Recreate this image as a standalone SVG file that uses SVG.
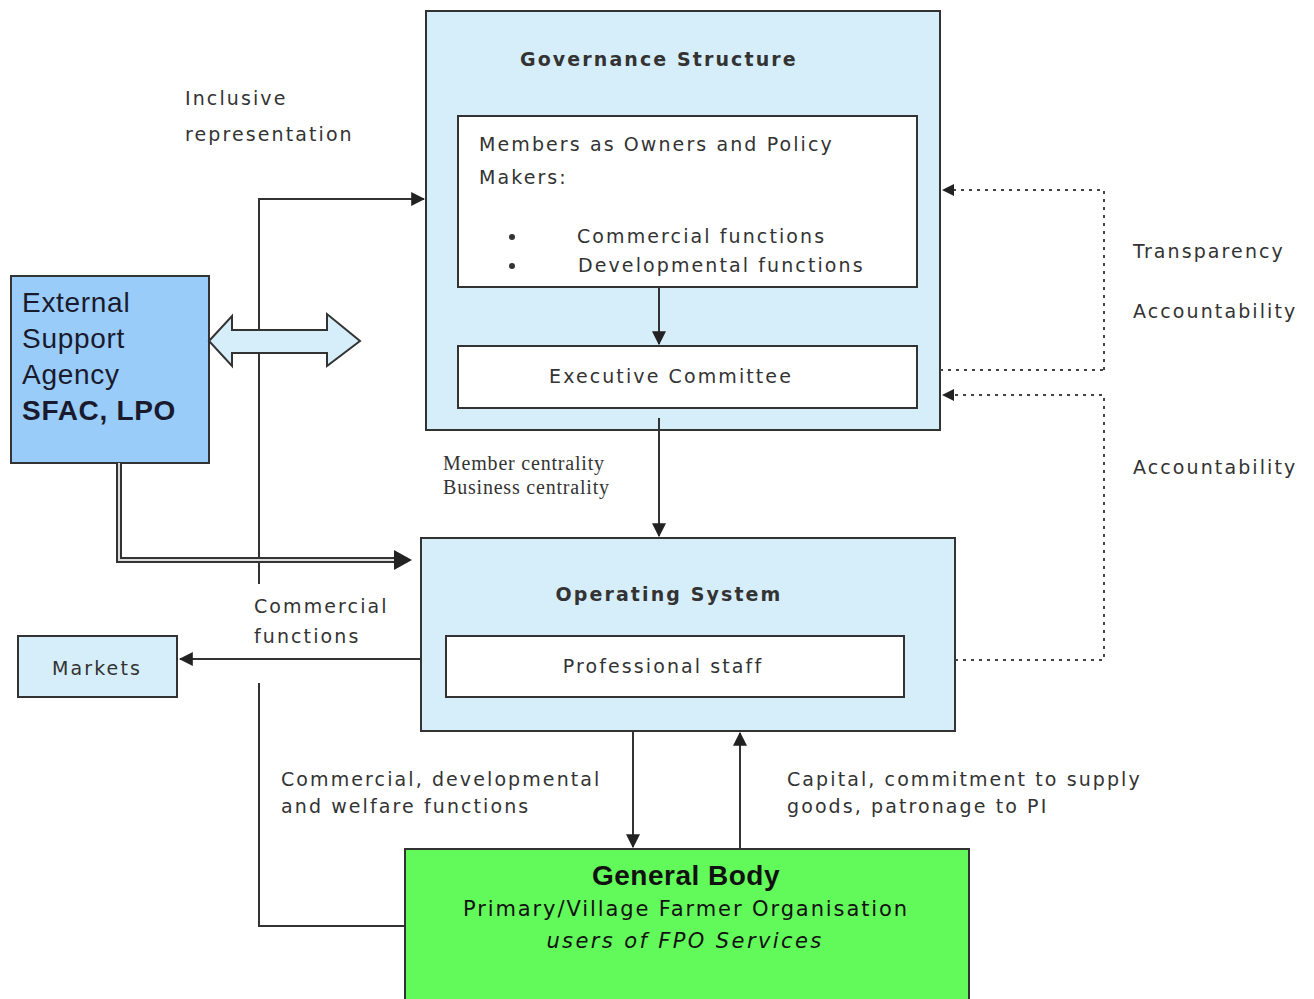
<svg xmlns="http://www.w3.org/2000/svg" width="1314" height="999" viewBox="0 0 1314 999">
<style>
.t{font-family:"DejaVu Sans",Verdana,sans-serif;font-size:19px;fill:#333;letter-spacing:2.1px}
.b{font-weight:bold}
.s{font-family:"Liberation Serif","Times New Roman",serif;font-size:20px;fill:#333;letter-spacing:0.8px}
.e{font-family:"Liberation Sans",Arial,sans-serif;font-size:28px;fill:#1a1a2e;letter-spacing:0.7px}
.g{font-family:"DejaVu Sans",sans-serif;font-size:21px;fill:#111}
.box{stroke:#333;stroke-width:2}
.ln{stroke:#333;stroke-width:2;fill:none}
.dot{stroke:#444;stroke-width:2;fill:none;stroke-dasharray:3 5}
</style>
<defs>
<marker id="ah2" viewBox="0 0 12 12" refX="11" refY="6" markerWidth="14" markerHeight="14" orient="auto" markerUnits="userSpaceOnUse">
<path d="M0,0 L12,6 L0,12 z" fill="#222"/>
</marker>
</defs>
<rect width="1314" height="999" fill="#fff"/>

<g id="governance">
<rect class="box" x="426" y="11" width="514" height="419" fill="#d5eefa"/>
<text class="t b" x="520" y="66" font-size="20">Governance Structure</text>
</g>
<g id="members">
<rect class="box" x="458" y="116" width="459" height="171" fill="#fff"/>
<text class="t" x="479" y="151">Members as Owners and Policy</text>
<text class="t" x="479" y="184">Makers:</text>
<circle cx="512" cy="237" r="3" fill="#333"/>
<circle cx="512" cy="266" r="3" fill="#333"/>
<text class="t" x="577" y="243">Commercial functions</text>
<text class="t" x="578" y="272">Developmental functions</text>
</g>
<g id="executive">
<rect class="box" x="458" y="346" width="459" height="62" fill="#fff"/>
<text class="t" x="671" y="383" text-anchor="middle">Executive Committee</text>
</g>
<g id="operating">
<rect class="box" x="421" y="538" width="534" height="193" fill="#d5eefa"/>
<text class="t b" x="669" y="601" text-anchor="middle">Operating System</text>
</g>
<g id="staff">
<rect class="box" x="446" y="636" width="458" height="61" fill="#fff"/>
<text class="t" x="663" y="673" text-anchor="middle">Professional staff</text>
</g>
<g id="markets">
<rect class="box" x="18" y="636" width="159" height="61" fill="#d5eefa"/>
<text class="t" x="97" y="675" text-anchor="middle">Markets</text>
</g>
<g id="esa">
<rect class="box" x="11" y="276" width="198" height="187" fill="#99ccf8"/>
<text class="e" x="22" y="312">External</text>
<text class="e" x="22" y="348">Support</text>
<text class="e" x="22" y="384">Agency</text>
<text class="e" x="22" y="420" font-weight="bold" fill="#111" letter-spacing="1">SFAC, LPO</text>
</g>
<g id="general-body">
<rect class="box" x="405" y="849" width="564" height="152" fill="#62fa5a"/>
<text x="686" y="885" text-anchor="middle" font-family="Liberation Sans,Arial,sans-serif" font-size="28" font-weight="bold" letter-spacing="0.5" fill="#111">General Body</text>
<text class="g" x="686" y="916" text-anchor="middle" letter-spacing="1.9">Primary/Village Farmer Organisation</text>
<text class="g" x="685" y="948" text-anchor="middle" font-style="italic" letter-spacing="2.4">users of FPO Services</text>
</g>

<g id="labels">
<text class="t" x="185" y="105">Inclusive</text>
<text class="t" x="185" y="141">representation</text>
<text class="s" x="443" y="470">Member centrality</text>
<text class="s" x="443" y="494">Business centrality</text>
<text class="t" x="254" y="613">Commercial</text>
<text class="t" x="254" y="643">functions</text>
<text class="t" x="281" y="786">Commercial, developmental</text>
<text class="t" x="281" y="813">and welfare functions</text>
<text class="t" x="787" y="786">Capital, commitment to supply</text>
<text class="t" x="787" y="813">goods, patronage to PI</text>
<text class="t" x="1133" y="258">Transparency</text>
<text class="t" x="1133" y="318">Accountability</text>
<text class="t" x="1133" y="474">Accountability</text>
</g>

<g id="connectors">
<line class="ln" x1="659" y1="287" x2="659" y2="344" marker-end="url(#ah2)"/>
<line class="ln" x1="659" y1="418" x2="659" y2="536" marker-end="url(#ah2)"/>
<line class="ln" x1="421" y1="659" x2="180" y2="659" marker-end="url(#ah2)"/>
<line class="ln" x1="633" y1="731" x2="633" y2="847" marker-end="url(#ah2)"/>
<line class="ln" x1="740" y1="849" x2="740" y2="733" marker-end="url(#ah2)"/>
<path class="ln" d="M259,584 V199 H424" marker-end="url(#ah2)"/>
<path class="ln" d="M405,926 H259 V683"/>
<path d="M119,463 V560 H396" fill="none" stroke="#333" stroke-width="6"/>
<path d="M119,463 V560 H396" fill="none" stroke="#ddd" stroke-width="2"/>
<path d="M394,550 L412,560 L394,570 z" fill="#222"/>
<path d="M209,341 L232,316 L232,330 L327,330 L327,314 L360,341 L327,366 L327,353 L232,353 L232,366 z" fill="#d5eefa" stroke="#333" stroke-width="2"/>
<path class="dot" d="M1104,370 V190 H950"/>
<path d="M954,184 L942,190 L954,196 z" fill="#222"/>
<path class="dot" d="M940,370 H1104"/>
<path class="dot" d="M955,660 H1104 V395 H950"/>
<path d="M954,389 L942,395 L954,401 z" fill="#222"/>
</g>
</svg>
